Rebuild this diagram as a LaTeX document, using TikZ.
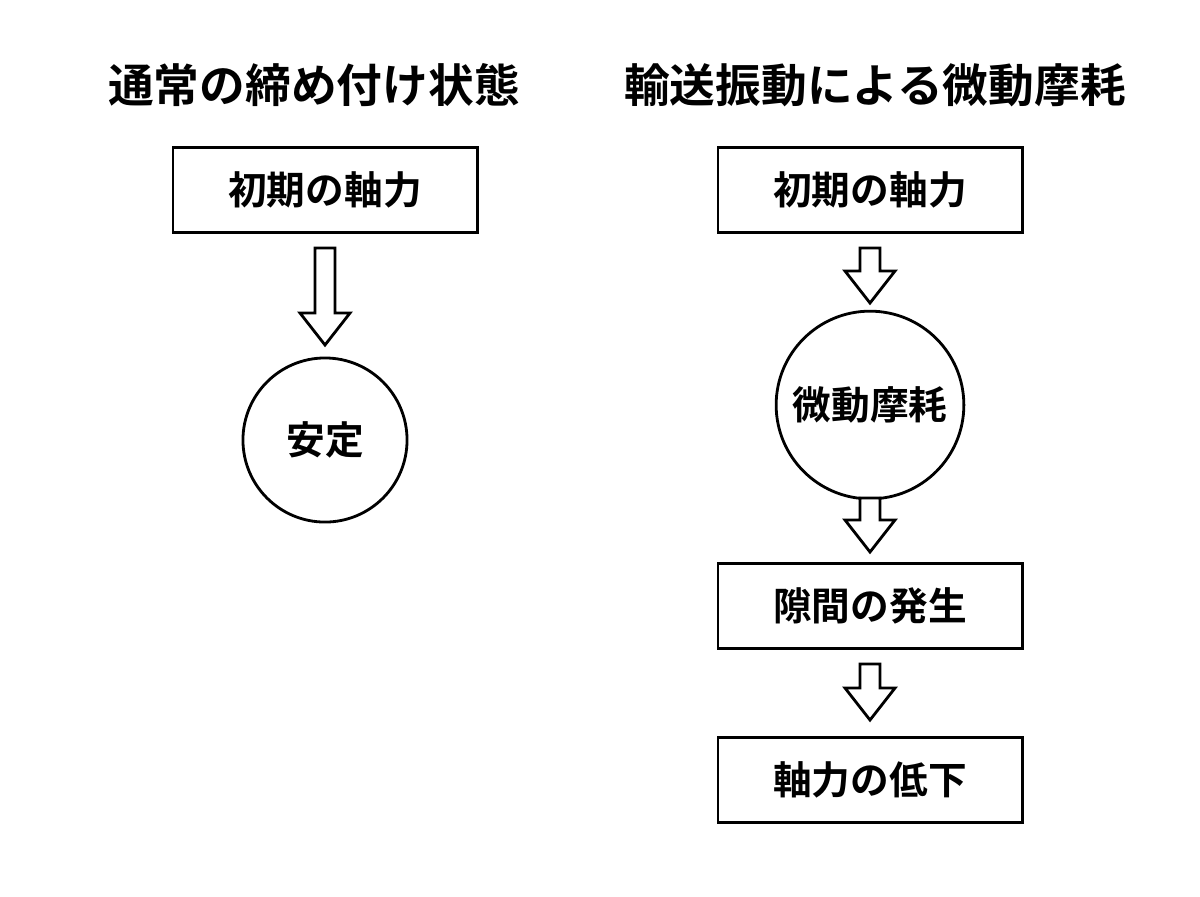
\documentclass[tikz,border=0pt]{standalone}
\usepackage{fontspec}
\newfontfamily\cjk{Noto Sans CJK JP}[BoldFont={Noto Sans CJK JP Bold}]
\usetikzlibrary{positioning}
\tikzset{
  stage/.style={draw, thick, minimum width=3.04cm, minimum height=0.85cm, font=\cjk\bfseries\fontsize{11}{13}\selectfont},
  state/.style={draw, thick, circle, font=\cjk\bfseries\fontsize{11}{13}\selectfont},
  heading/.style={font=\cjk\bfseries\fontsize{13}{15}\selectfont},
  hollow/.style={draw, thick, fill=white}
}
% hollow down arrow: x, top, bottom
\newcommand{\downarrowat}[3]{%
  \draw [hollow] (#1-10,#2) -- (#1+10,#2) -- (#1+10,#3-32) -- (#1+25,#3-32)
    -- (#1,#3) -- (#1-25,#3-32) -- (#1-10,#3-32) -- cycle;}
\begin{document}
\begin{tikzpicture}[x=0.01cm, y=-0.01cm]
\useasboundingbox (0,0) rectangle (1200,896);
% left column
\node [heading] (tl) at (314,85) {通常の締め付け状態};
\node [stage] (l1) at (325,190) {初期の軸力};
\node [state, minimum size=1.64cm] (l2) at (325,440) {安定};
\downarrowat{325}{248}{345}
% right column
\node [heading] (tr) at (875,85) {輸送振動による微動摩耗};
\node [stage] (r1) at (870,190) {初期の軸力};
\node [state, minimum size=1.8cm] (r2) at (870,405) {微動摩耗};
\node [stage] (r3) at (870,606) {隙間の発生};
\node [stage] (r4) at (870,780) {軸力の低下};
\downarrowat{870}{248}{303}
\downarrowat{870}{498}{552}
\downarrowat{870}{664}{720}
\end{tikzpicture}
\end{document}
